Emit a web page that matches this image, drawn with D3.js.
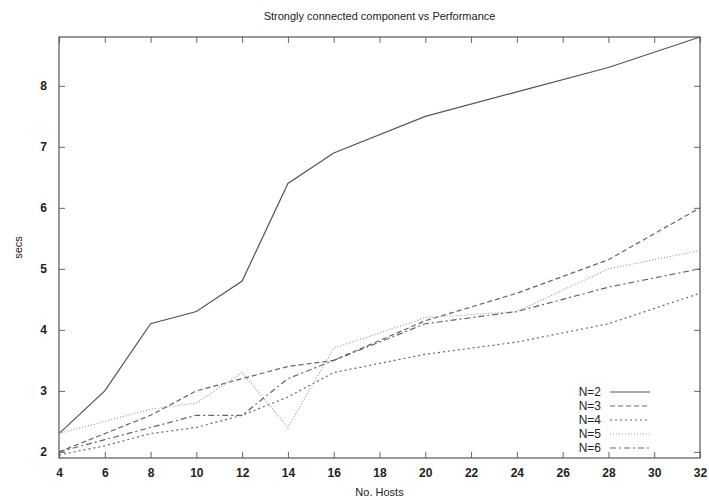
<!DOCTYPE html>
<html>
<head>
<meta charset="utf-8">
<script src="https://cdn.jsdelivr.net/npm/d3@7"></script>
<style>
  body { margin: 0; background: #fff; }
  text { font-family: "Liberation Sans", Arial, sans-serif; fill: #222; }
</style>
</head>
<body>
<div id="chart"></div>
<script>
// hosts measured
var hosts = [4, 6, 8, 10, 12, 14, 16, 20, 24, 28, 32];
var n2 = [2.3, 3.0, 4.1, 4.3, 4.8, 6.4, 6.9, 7.5, 7.9, 8.3, 8.8];
var n3 = [2.0, 2.3, 2.6, 3.0, 3.2, 3.4, 3.5, 4.15, 4.6, 5.15, 6.0];
var n4 = [1.95, 2.1, 2.3, 2.4, 2.6, 2.9, 3.3, 3.6, 3.8, 4.1, 4.6];
var n5 = [2.3, 2.5, 2.7, 2.8, 3.3, 2.4, 3.7, 4.2, 4.3, 5.0, 5.3];
var n6 = [2.0, 2.2, 2.4, 2.6, 2.6, 3.2, 3.5, 4.1, 4.3, 4.7, 5.0];
var seriesNames = ["N=2", "N=3", "N=4", "N=5", "N=6"];
var xTicks = [4, 6, 8, 10, 12, 14, 16, 18, 20, 22, 24, 26, 28, 30, 32];
var yTicks = [2, 3, 4, 5, 6, 7, 8];

var series = [n2, n3, n4, n5, n6];
// line looks for each series
var dashes = ["none", "5,3", "2,3", "1,2", "6,3,2,3"];
var strokes = ["#555", "#666", "#666", "#999", "#666"];

var width = 709, height = 500;
var margin = {top: 37, right: 9, bottom: 42, left: 59};

var svg = d3.select("#chart")
	.append("svg")
	.attr("width", width)
	.attr("height", height);

var x = d3.scaleLinear().domain([4, 32]).range([margin.left, width - margin.right]);
var y = d3.scaleLinear().domain([1.9, 8.8]).range([height - margin.bottom, margin.top]);

// tick marks on all four sides, pointing in
svg.append("g")
	.attr("transform", "translate(0," + (height - margin.bottom) + ")")
	.call(d3.axisBottom(x).tickValues(xTicks).tickSize(-6).tickPadding(10).tickFormat(d3.format("d")));
svg.append("g")
	.attr("transform", "translate(0," + margin.top + ")")
	.call(d3.axisTop(x).tickValues(xTicks).tickSize(-6).tickFormat(""));
svg.append("g")
	.attr("transform", "translate(" + margin.left + ",0)")
	.call(d3.axisLeft(y).tickValues(yTicks).tickSize(-6).tickPadding(12).tickFormat(d3.format("d")));
svg.append("g")
	.attr("transform", "translate(" + (width - margin.right) + ",0)")
	.call(d3.axisRight(y).tickValues(yTicks).tickSize(-6).tickFormat(""));

svg.selectAll(".domain").remove();
svg.selectAll(".tick line").attr("stroke", "#666");
svg.selectAll(".tick text")
	.style("font-size", "12px")
	.style("font-weight", "bold")
	.attr("fill", "#333");

// frame
svg.append("rect")
	.attr("x", margin.left)
	.attr("y", margin.top)
	.attr("width", width - margin.left - margin.right)
	.attr("height", height - margin.top - margin.bottom)
	.attr("fill", "none")
	.attr("stroke", "#555")
	.attr("stroke-width", 1.2);

var line = d3.line()
	.x(function(d, i) { return x(hosts[i]); })
	.y(function(d) { return y(d); });

svg.selectAll(".series")
	.data(series)
	.enter().append("path")
	.attr("class", "series")
	.attr("d", line)
	.attr("fill", "none")
	.attr("stroke", function(d, i) { return strokes[i]; })
	.attr("stroke-width", 1.2)
	.attr("stroke-dasharray", function(d, i) { return dashes[i]; });

// legend
var legend = svg.selectAll(".legend")
	.data(seriesNames)
	.enter().append("g")
	.attr("class", "legend")
	.attr("transform", function(d, i) { return "translate(0," + (392 + i * 14) + ")"; });
legend.append("text")
	.attr("x", 601)
	.attr("y", 4)
	.attr("text-anchor", "end")
	.style("font-size", "12px")
	.text(function(d) { return d; });
legend.append("line")
	.attr("x1", 610)
	.attr("x2", 650)
	.attr("stroke", function(d, i) { return strokes[i]; })
	.attr("stroke-width", 1.2)
	.attr("stroke-dasharray", function(d, i) { return dashes[i]; });

// titles
svg.append("text")
	.attr("x", (margin.left + width - margin.right) / 2)
	.attr("y", 20)
	.attr("text-anchor", "middle")
	.style("font-size", "11px")
	.text("Strongly connected component vs Performance");
svg.append("text")
	.attr("x", (margin.left + width - margin.right) / 2)
	.attr("y", 496)
	.attr("text-anchor", "middle")
	.style("font-size", "11px")
	.text("No. Hosts");
svg.append("text")
	.attr("transform", "translate(22," + ((margin.top + height - margin.bottom) / 2) + ") rotate(-90)")
	.attr("text-anchor", "middle")
	.style("font-size", "11px")
	.text("secs");
</script>
</body>
</html>
